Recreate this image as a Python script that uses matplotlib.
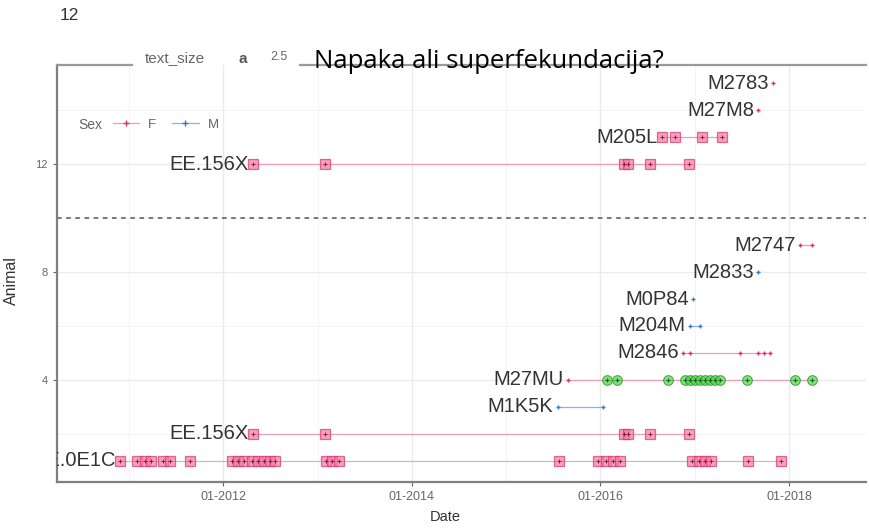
#!/usr/bin/env python3
"""
Sampling timeline per animal: one row per animal, a line from first to last
sample, markers for each sampling date. Saved to out.png.
"""

import numpy as np
import matplotlib
matplotlib.use("Agg")
import matplotlib.pyplot as plt
import matplotlib.dates as mdates
import matplotlib.ticker as ticker
from matplotlib.lines import Line2D

plt.rcParams["font.family"] = ["Liberation Sans", "DejaVu Sans"]

# --- data ----------------------------------------------------------------
ANIMALS = ["EE.0E1C", "EE.156X", "M1K5K", "M27MU", "M2846", "M204M", "M0P84",
           "M2833", "M2747", "EE.156X", "M205L", "M27M8", "M2783"]
ROWS = [1, 2, 3, 4, 5, 6, 7, 8, 9, 12, 13, 14, 15]
SEX = ["F", "F", "M", "F", "F", "M", "M", "M", "F", "F", "F", "F", "F"]
# "square" = genotyped sample, "dot" = single observation
KIND = ["square", "square", "dot", "dot", "dot", "dot", "dot",
        "dot", "dot", "square", "square", "dot", "dot"]

dates_0E1C = ["2010-11-27", "2011-02-01", "2011-03-04", "2011-03-27", "2011-05-13",
              "2011-06-09", "2011-08-26", "2012-02-05", "2012-02-28", "2012-03-22",
              "2012-04-22", "2012-05-15", "2012-06-07", "2012-06-30", "2012-07-20",
              "2013-02-03", "2013-02-26", "2013-03-25", "2015-07-24", "2015-12-23",
              "2016-01-23", "2016-02-19", "2016-03-17", "2016-12-22", "2017-01-18",
              "2017-02-10", "2017-03-05", "2017-07-26", "2017-12-01"]
dates_156X = ["2012-04-26", "2013-01-30", "2016-04-02", "2016-04-17",
              "2016-07-11", "2016-12-10"]
dates_M1K5K = ["2015-07-20", "2016-01-11"]
dates_M27MU = ["2015-08-28"]
dates_M27MU_green = ["2016-01-26", "2016-03-06", "2016-09-19", "2016-11-24",
                     "2016-12-13", "2017-01-02", "2017-01-21", "2017-02-10",
                     "2017-03-01", "2017-03-21", "2017-04-09", "2017-07-23",
                     "2018-01-24", "2018-03-30"]
dates_M2846 = ["2016-11-16", "2016-12-13", "2017-06-26", "2017-09-03",
               "2017-09-26", "2017-10-19"]
dates_M204M = ["2016-12-13", "2017-01-21"]
dates_M0P84 = ["2016-12-25"]
dates_M2833 = ["2017-09-03"]
dates_M2747 = ["2018-02-13", "2018-03-30"]
dates_M205L = ["2016-08-27", "2016-10-16", "2017-01-29", "2017-04-17"]
dates_M27M8 = ["2017-09-03"]
dates_M2783 = ["2017-10-31"]

DATES = [dates_0E1C, dates_156X, dates_M1K5K, dates_M27MU, dates_M2846,
         dates_M204M, dates_M0P84, dates_M2833, dates_M2747, dates_156X,
         dates_M205L, dates_M27M8, dates_M2783]

SEX_COLORS = {"F": "#e0306a", "M": "#3a78c8"}
LINE_COLORS = {"F": "#eaa0b4", "M": "#8fb2e0"}
SQUARE_FILL = "#f27aa2"
GREEN = "#3ee03e"

W, H = 869, 531


def fx(x):
    return x / W


def fy(y):
    return 1 - y / H


def main():
    fig = plt.figure(figsize=(W / 100, H / 100), dpi=100)
    ax = fig.add_axes([fx(57), fy(482), fx(866) - fx(57), fy(65) - fy(482)])

    for name, row, sex, kind, dates in zip(ANIMALS, ROWS, SEX, KIND, DATES):
        d = np.array(dates, dtype="datetime64[D]")
        if name == "M27MU":
            d_all = np.concatenate([d, np.array(dates_M27MU_green, dtype="datetime64[D]")])
        else:
            d_all = d
        line_col = "#c4bcc8" if name == "EE.0E1C" else LINE_COLORS[sex]
        ax.plot([d_all.min(), d_all.max()], [row, row], color=line_col,
                lw=0.9, zorder=2)
        yy = np.full(len(d), row)
        if kind == "square":
            ax.plot(d, yy, ls="none", marker="s", ms=7.5, mfc=SQUARE_FILL,
                    mec="#d8336e", mew=0.9, alpha=0.7, zorder=3)
            ax.plot(d, yy, ls="none", marker="+", ms=3.5, mec="#8a1c45",
                    mew=0.7, zorder=4)
        else:
            ax.plot(d, yy, ls="none", marker="+", ms=3.5, mec=SEX_COLORS[sex],
                    mew=1.0, zorder=4)
        t = ax.annotate(name, (d_all.min(), row), xytext=(-3, 0),
                        textcoords="offset points", ha="right", va="center",
                        fontsize=14.5, color="#333333", zorder=5,
                        annotation_clip=False)
        t.set_clip_path(ax.patch)

    # green circles for M27MU
    g = np.array(dates_M27MU_green, dtype="datetime64[D]")
    ax.plot(g, np.full(len(g), 4), ls="none", marker="o", ms=7, mfc=GREEN,
            mec="#2a8a2a", mew=0.8, alpha=0.7, zorder=3)
    ax.plot(g, np.full(len(g), 4), ls="none", marker="+", ms=3.5, mec="#335533",
            mew=0.8, zorder=4)

    ax.axhline(10, color="#555555", lw=1.1, ls=(0, (3, 3)), zorder=1)

    ax.set_xlim(np.datetime64("2010-03-28"), np.datetime64("2018-10-26"))
    ax.set_ylim(0.22, 15.67)

    ax.xaxis.set_major_locator(mdates.YearLocator(2))
    ax.xaxis.set_minor_locator(mdates.YearLocator(1))
    ax.xaxis.set_major_formatter(mdates.DateFormatter("%m-%Y"))
    ax.yaxis.set_major_locator(ticker.FixedLocator([4, 8, 12]))
    ax.yaxis.set_minor_locator(ticker.FixedLocator([2, 6, 10, 14]))

    ax.grid(True, which="major", color="#ebebeb", lw=1.0, zorder=0)
    ax.grid(True, which="minor", color="#f3f3f3", lw=0.6, zorder=0)
    ax.set_axisbelow(True)
    ax.tick_params(axis="both", which="major", colors="#666666",
                   length=3, width=0.8, labelcolor="#666666")
    ax.tick_params(axis="x", which="major", labelsize=9)
    ax.tick_params(axis="y", which="major", labelsize=8)
    ax.tick_params(axis="both", which="minor", length=0)

    for s in ("top", "right"):
        ax.spines[s].set_visible(False)
    for s in ("left", "bottom"):
        ax.spines[s].set_color("#7f7f7f")
        ax.spines[s].set_linewidth(1.6)

    ax.set_xlabel("Date", fontsize=10.5, color="#333333")
    ax.set_ylabel("Animal", fontsize=11.5, color="#333333")
    ax.xaxis.set_label_coords((445 - 57) / (866 - 57), -0.067)
    ax.yaxis.set_label_coords(-0.047, (482 - 281) / (482 - 65))

    # broken top border with the text_size key in the gap
    for x0, x1 in ((57, 132), (300, 866)):
        fig.add_artist(Line2D([fx(x0), fx(x1)], [fy(65), fy(65)],
                              transform=fig.transFigure, color="#9a9a9a", lw=1.6))
    fig.text(fx(145), fy(58), "text_size", fontsize=11, color="#666666",
             va="center", ha="left")
    fig.text(fx(243), fy(59), "a", fontsize=11, color="#555555",
             va="center", ha="center", fontweight="bold")
    fig.text(fx(270), fy(57), "2.5", fontsize=9, color="#666666",
             va="center", ha="left")

    fig.text(fx(60), fy(16), "12", fontsize=12.5, color="#333333",
             va="center", ha="left")

    fig.text(fx(489), fy(61), "Napaka ali superfekundacija?", fontsize=18.5,
             family=["Open Sans", "DejaVu Sans"], color="black",
             va="center", ha="center")

    # Sex key
    fig.text(fx(78), fy(125), "Sex", fontsize=10, color="#666666",
             va="center", ha="left")
    handles = [Line2D([], [], color=LINE_COLORS[s], lw=0.9, marker="+", ms=4,
                      mec=SEX_COLORS[s], mew=1.0) for s in ("F", "M")]
    leg = fig.legend(handles, ["F", "M"], ncol=2, frameon=False,
                     loc="center left", bbox_to_anchor=(fx(106), fy(125)),
                     fontsize=9.5, handlelength=2.0, handletextpad=0.7,
                     columnspacing=1.2, borderpad=0)
    for t in leg.get_texts():
        t.set_color("#666666")

    fig.savefig("out.png", dpi=100)
    plt.close(fig)


if __name__ == "__main__":
    main()
